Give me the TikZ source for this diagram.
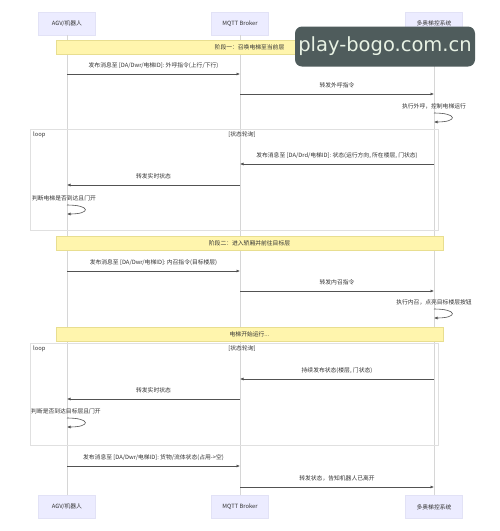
\documentclass[tikz,border=0pt]{standalone}
\usepackage{fontspec}
\setmainfont{Noto Sans CJK SC}
\newfontfamily\wmfont{DejaVu Sans}
\usetikzlibrary{arrows.meta}
\definecolor{actfill}{HTML}{ECECFF}
\definecolor{actdraw}{HTML}{E2E2F6}
\definecolor{notefill}{HTML}{FFF5AD}
\definecolor{notedraw}{HTML}{E8DE90}
\definecolor{lifeln}{HTML}{D6D6D6}
\definecolor{txt}{HTML}{333333}
\definecolor{framecol}{HTML}{E0E0E0}
\definecolor{wmfill}{HTML}{4F5C5C}
\definecolor{wmtext}{HTML}{E8F2E4}
\begin{document}
\begin{tikzpicture}[x=1pt,y=-1pt,
  font=\fontsize{5.8}{6.5}\selectfont, text=txt,
  actor/.style={fill=actfill, draw=actdraw, line width=0.4pt, minimum width=57pt, minimum height=23pt, inner sep=0pt},
  note/.style={fill=notefill, draw=notedraw, line width=0.5pt, minimum width=387pt, minimum height=14pt, inner sep=0pt},
  life/.style={draw=lifeln, line width=0.6pt},
  msg/.style={draw=txt!85, line width=0.6pt, -{Latex[length=3.5pt,width=3pt]}},
  lbl/.style={above=5.5pt, inner sep=0pt},
  frame/.style={draw=framecol, line width=0.6pt},
  slbl/.style={inner sep=0pt}
]
\useasboundingbox[fill=white] (0,0) rectangle (500,531);

% participants
\node[actor] (A) at (67,23.5) {AGV/机器人};
\node[actor] (B) at (240,23.5) {MQTT Broker};
\node[actor] (C) at (434,23.5) {多奥梯控系统};
\node[actor] (A2) at (67,507) {AGV/机器人};
\node[actor] (B2) at (240,507) {MQTT Broker};
\node[actor] (C2) at (434,507) {多奥梯控系统};

% lifelines
\draw[life] (A) -- (A2);
\draw[life] (B) -- (B2);
\draw[life] (C) -- (C2);

% loop frames
\draw[frame] (30,129) rectangle (438,230);
\node[slbl, anchor=west] (l1) at (33,135) {loop};
\node[slbl] (l1c) at (242,135) {[状态轮询]};
\draw[frame] (30,343) rectangle (438,445);
\node[slbl, anchor=west] (l2) at (33,349) {loop};
\node[slbl] (l2c) at (242,349) {[状态轮询]};

% notes
\node[note] (n1) at (249.5,47) {阶段一：召唤电梯至当前层};
\node[note] (n2) at (249.5,243) {阶段二：进入轿厢并前往目标层};
\node[note] (n3) at (249.5,334) {电梯开始运行...};

% message end points
\coordinate (m1a) at (67,74);   \coordinate (m1b) at (240,74);
\coordinate (m2a) at (240,94);  \coordinate (m2b) at (434,94);
\coordinate (s1a) at (434,113); \coordinate (s1b) at (434,122);
\coordinate (m3a) at (434,164); \coordinate (m3b) at (240,164);
\coordinate (m4a) at (240,185); \coordinate (m4b) at (67,185);
\coordinate (s2a) at (67,205);  \coordinate (s2b) at (67,214);
\coordinate (m5a) at (67,271);  \coordinate (m5b) at (240,271);
\coordinate (m6a) at (240,291); \coordinate (m6b) at (434,291);
\coordinate (s3a) at (434,309); \coordinate (s3b) at (434,318);
\coordinate (m7a) at (434,379); \coordinate (m7b) at (240,379);
\coordinate (m8a) at (240,399); \coordinate (m8b) at (67,399);
\coordinate (s4a) at (67,418);  \coordinate (s4b) at (67,427);
\coordinate (m9a) at (67,466);  \coordinate (m9b) at (240,466);
\coordinate (m10a) at (240,487); \coordinate (m10b) at (434,487);

% messages
\draw[msg] (m1a) -- node[lbl] {发布消息至 [DA/Dwr/电梯ID]: 外呼指令(上行/下行)} (m1b);
\draw[msg] (m2a) -- node[lbl] {转发外呼指令} (m2b);
\node[slbl] (t1) at (434,106) {执行外呼，控制电梯运行};
\draw[msg] (s1a) .. controls ([xshift=24pt]s1a) and ([xshift=24pt]s1b) .. (s1b);

\draw[msg] (m3a) -- node[lbl] {发布消息至 [DA/Drd/电梯ID]: 状态(运行方向, 所在楼层, 门状态)} (m3b);
\draw[msg] (m4a) -- node[lbl] {转发实时状态} (m4b);
\node[slbl] (t2) at (64,198) {判断电梯是否到达且门开};
\draw[msg] (s2a) .. controls ([xshift=24pt]s2a) and ([xshift=24pt]s2b) .. (s2b);

\draw[msg] (m5a) -- node[lbl] {发布消息至 [DA/Dwr/电梯ID]: 内召指令(目标楼层)} (m5b);
\draw[msg] (m6a) -- node[lbl] {转发内召指令} (m6b);
\node[slbl] (t3) at (434,302) {执行内召，点亮目标楼层按钮};
\draw[msg] (s3a) .. controls ([xshift=24pt]s3a) and ([xshift=24pt]s3b) .. (s3b);

\draw[msg] (m7a) -- node[lbl] {持续发布状态(楼层, 门状态)} (m7b);
\draw[msg] (m8a) -- node[lbl] {转发实时状态} (m8b);
\node[slbl] (t4) at (66,411) {判断是否到达目标层且门开};
\draw[msg] (s4a) .. controls ([xshift=24pt]s4a) and ([xshift=24pt]s4b) .. (s4b);

\draw[msg] (m9a) -- node[lbl] {发布消息至 [DA/Dwr/电梯ID]: 货物/流体状态(占用->空)} (m9b);
\draw[msg] (m10a) -- node[lbl] {转发状态，告知机器人已离开} (m10b);

% watermark
\node[fill=wmfill, rounded corners=7pt, minimum width=180pt, minimum height=40pt, inner sep=0pt,
      text=wmtext, font=\wmfont\fontsize{19.5}{21}\selectfont] (wm) at (385,46.5) {play-bogo.com.cn};
\end{tikzpicture}
\end{document}
